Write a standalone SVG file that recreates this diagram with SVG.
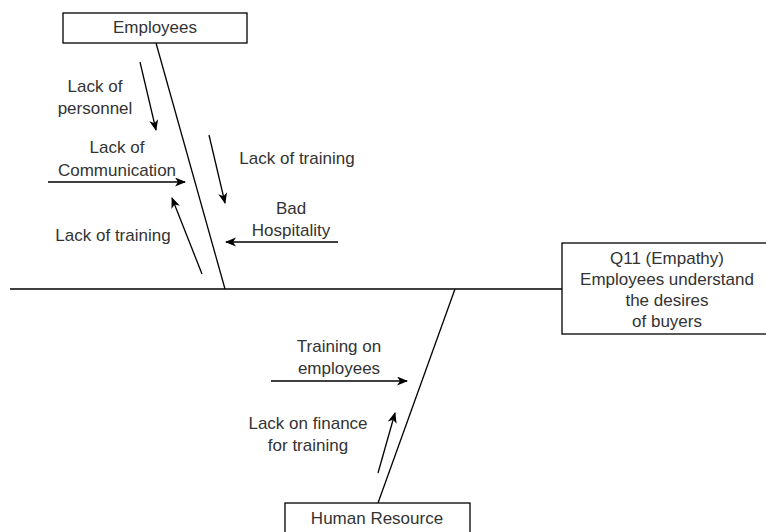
<svg xmlns="http://www.w3.org/2000/svg" width="766" height="532" viewBox="0 0 766 532">
<style>
.t{font-family:"Liberation Sans",Arial,sans-serif;font-size:17px;fill:#333;text-anchor:middle}
.ln{stroke:#000;stroke-width:1.3;fill:none}
.ar{stroke:#000;stroke-width:1.3;fill:none;marker-end:url(#ah)}
.box{fill:#fff;stroke:#000;stroke-width:1.3}
</style>
<defs>
<marker id="ah" markerUnits="userSpaceOnUse" markerWidth="12" markerHeight="10" refX="10" refY="4.5" orient="auto">
<path d="M0,0 L11,4.5 L0,9 L3,4.5 z" fill="#000"/>
</marker>
</defs>
<g id="connectors">
<line class="ln" x1="10" y1="289" x2="562" y2="289"/>
<line class="ln" x1="156" y1="43" x2="225" y2="289"/>
<line class="ln" x1="455" y1="289" x2="378" y2="503"/>
<line class="ar" x1="140" y1="62" x2="156" y2="130"/>
<line class="ar" x1="48" y1="182" x2="185" y2="182"/>
<line class="ar" x1="202" y1="274" x2="172" y2="198"/>
<line class="ar" x1="209" y1="135" x2="225" y2="203"/>
<line class="ar" x1="338" y1="242" x2="226" y2="242"/>
<line class="ar" x1="271" y1="381" x2="407" y2="381"/>
<line class="ar" x1="378" y1="473" x2="395" y2="413"/>
</g>
<g id="employees">
<rect class="box" x="63" y="13" width="184" height="30"/>
<text class="t" x="155" y="33">Employees</text>
</g>
<g id="effect">
<rect class="box" x="562" y="243" width="212" height="91"/>
<text class="t" x="667" y="264">Q11 (Empathy)</text>
<text class="t" x="667" y="285">Employees understand</text>
<text class="t" x="667" y="306">the desires</text>
<text class="t" x="667" y="327">of buyers</text>
</g>
<g id="human-resource">
<rect class="box" x="285" y="503" width="185" height="40"/>
<text class="t" x="377" y="524">Human Resource</text>
</g>
<g id="cause-personnel">
<text class="t" x="95" y="92">Lack of</text>
<text class="t" x="95" y="114">personnel</text>
</g>
<g id="cause-communication">
<text class="t" x="117" y="153">Lack of</text>
<text class="t" x="117" y="176">Communication</text>
</g>
<g id="cause-training-left">
<text class="t" x="113" y="241">Lack of training</text>
</g>
<g id="cause-training-right">
<text class="t" x="297" y="164">Lack of training</text>
</g>
<g id="cause-hospitality">
<text class="t" x="291" y="214">Bad</text>
<text class="t" x="291" y="236">Hospitality</text>
</g>
<g id="cause-training-employees">
<text class="t" x="339" y="352">Training on</text>
<text class="t" x="339" y="374">employees</text>
</g>
<g id="cause-finance">
<text class="t" x="308" y="429">Lack on finance</text>
<text class="t" x="308" y="451">for training</text>
</g>
</svg>
